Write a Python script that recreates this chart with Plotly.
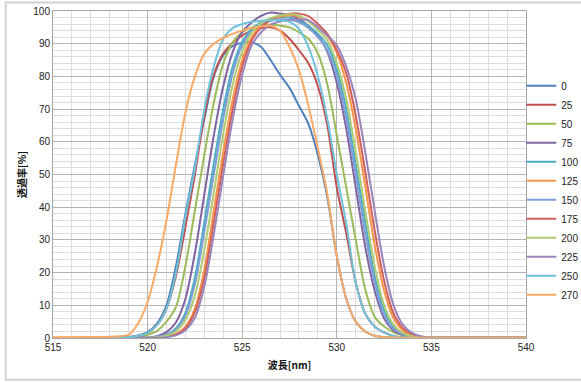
import plotly.graph_objects as go

# wavelength grid [nm]
wavelength = [515, 517, 518, 519, 519.5, 520, 520.5, 521, 521.5, 522, 522.5, 523, 523.5,
              524, 524.5, 525, 525.5, 526, 526.5, 527, 527.5, 528, 528.5, 529, 529.5,
              530, 530.5, 531, 531.5, 532, 532.5, 533, 533.5, 534, 534.5, 535, 536, 538, 540]

series_names = ["0", "25", "50", "75", "100", "125", "150", "175", "200", "225", "250", "270"]

t_0 = [0, 0, 0.05, 0.3, 0.8, 1.8, 4.5, 10, 22, 38, 53, 67, 80,
       86.5, 89.3, 90.3, 90.4, 89, 85, 80.5, 76.5, 71, 65.5, 56, 43,
       25, 12, 5, 2, 0.7, 0.3, 0.15, 0.1, 0.1, 0.1, 0.1, 0.1, 0.1, 0.1]
t_25 = [0, 0, 0.05, 0.3, 0.7, 1.5, 4, 9, 19, 34, 50, 68, 80.5,
        87, 90.3, 92.5, 94, 94.8, 95, 94, 91.5, 88, 84, 77, 65,
        46, 32, 17, 7.5, 3.5, 1.7, 0.6, 0.2, 0.1, 0.1, 0.1, 0.1, 0.1, 0.1]
t_50 = [0, 0, 0, 0.15, 0.4, 1, 2.2, 5, 9.5, 22, 39, 56, 72,
        84, 90.5, 93.5, 95, 95.6, 95.8, 95.6, 95, 93.5, 91.5, 87, 77.5,
        62, 46, 30, 15, 6.5, 3.5, 1.8, 0.8, 0.3, 0.1, 0.1, 0.1, 0.1, 0.1]
t_75 = [0, 0, 0, 0.02, 0.05, 0.2, 0.55, 1.8, 4.8, 12, 26, 44, 62,
        77, 87.5, 93.6, 96.5, 98.5, 99.5, 99.2, 98.8, 97.5, 95.5, 92.5, 87.5,
        78, 64, 46, 28, 14.5, 6, 2.3, 0.9, 0.3, 0.1, 0.1, 0.1, 0.1, 0.1]
t_100 = [0, 0, 0, 0.01, 0.03, 0.08, 0.35, 1.0, 3, 7.7, 18.4, 35.4, 53.4,
         70, 83, 90.5, 94.5, 96.5, 97.5, 98, 98, 97, 95.5, 93, 89.5,
         82, 70, 53, 35.5, 19, 8.5, 3.4, 1.3, 0.4, 0.15, 0.1, 0.1, 0.1, 0.1]
t_125 = [0, 0, 0, 0.01, 0.02, 0.04, 0.15, 0.55, 1.2, 3.5, 9, 21, 39,
         57, 73, 85, 92, 95.5, 97.2, 98.2, 98.7, 98.3, 97, 95, 92.3,
         87.2, 78, 64, 46.5, 28.5, 14.5, 6, 2.3, 0.9, 0.3, 0.1, 0.1, 0.1, 0.1]
t_150 = [0, 0, 0, 0.01, 0.02, 0.06, 0.28, 0.85, 2.6, 6.8, 16.5, 32.5, 50,
         67, 81, 89.5, 93.8, 96, 97, 97.5, 97.3, 96.5, 94.8, 92, 88,
         80, 67, 50, 32, 17, 7, 2.8, 1.1, 0.3, 0.1, 0.1, 0.1, 0.1, 0.1]
t_175 = [0, 0, 0, 0.01, 0.02, 0.03, 0.12, 0.45, 1.1, 3, 8, 18.5, 35.5,
         53.5, 70, 83, 91, 95, 97.2, 98.5, 99.2, 99.2, 98.4, 96, 93,
         88, 81, 68, 51, 33, 17.5, 7.5, 3, 1.1, 0.35, 0.1, 0.1, 0.1, 0.1]
t_200 = [0, 0, 0, 0.01, 0.02, 0.05, 0.22, 0.7, 2.0, 5.5, 13, 27, 44.5,
         62.5, 77.5, 87.5, 93.3, 96.3, 97.8, 98.6, 99, 98.6, 96.8, 94.2, 91,
         84, 73, 57, 39, 22, 10, 4, 1.5, 0.5, 0.15, 0.1, 0.1, 0.1, 0.1]
t_225 = [0, 0, 0, 0, 0.01, 0.03, 0.08, 0.25, 0.8, 2.4, 6.2, 15.8, 31.8,
         49.8, 67, 80.5, 89.5, 93.5, 95.8, 96.8, 97.3, 97.5, 97.2, 95, 92.5,
         89.5, 83, 73, 57, 39, 22, 10, 4, 1.5, 0.5, 0.15, 0.1, 0.1, 0.1]
t_250 = [0, 0, 0.05, 0.3, 0.7, 1.6, 4, 9, 20, 37, 52, 70, 83,
         91.5, 94.8, 96, 96.7, 97, 97.2, 97.2, 96.7, 94.5, 89, 80, 67,
         50, 35, 17, 7.5, 3.5, 1.7, 0.6, 0.2, 0.1, 0.1, 0.1, 0.1, 0.1, 0.1]
t_270 = [0.2, 0.3, 0.4, 1, 4.5, 11, 22, 36, 53, 69, 80, 87, 90,
         91.8, 93, 94, 94.8, 95.3, 95.5, 94, 89, 82, 71, 58, 44,
         25, 12, 5, 2, 0.7, 0.3, 0.15, 0.1, 0.1, 0.1, 0.1, 0.1, 0.1, 0.1]

series_values = [t_0, t_25, t_50, t_75, t_100, t_125, t_150, t_175, t_200, t_225, t_250, t_270]
series_colors = ["#4F81BD", "#C0504D", "#9BBB59", "#8064A2", "#4BACC6", "#F79646",
                 "#7F9FD5", "#D0605C", "#B0CC72", "#9A84BA", "#6EC2DA", "#F9A964"]

fig = go.Figure()
for name, vals, col in zip(series_names, series_values, series_colors):
    fig.add_trace(go.Scatter(x=wavelength, y=vals, name=name, mode="lines",
                             line=dict(color=col, width=2, shape="spline", smoothing=0.8)))

tick_font = dict(family="Liberation Sans, Arial, sans-serif", size=10, color="#222222")
title_font = dict(family="Noto Sans CJK JP, sans-serif", size=10, color="#111111")

fig.update_layout(
    width=581, height=383,
    margin=dict(l=53, r=55, t=11, b=45, autoexpand=False),
    paper_bgcolor="white", plot_bgcolor="white",
    showlegend=True,
    legend=dict(x=0.99, y=0.452, xanchor="left", yanchor="middle",
                font=dict(family="Liberation Sans, Arial, sans-serif", size=10, color="#222222"),
                itemwidth=30, bgcolor="rgba(0,0,0,0)", tracegroupgap=0),
    xaxis=dict(range=[515, 540], dtick=5, tick0=515, showgrid=True, gridcolor="#B4B4B4", gridwidth=1,
               minor=dict(dtick=1, showgrid=True, gridcolor="#DCDCDC", gridwidth=1),
               showline=True, linecolor="#A6A6A6", mirror=True, ticks="", zeroline=False,
               tickfont=tick_font,
               title=dict(text="<b>波長[nm]</b>", font=title_font, standoff=9)),
    yaxis=dict(range=[0, 100], dtick=10, tick0=0, showgrid=True, gridcolor="#B4B4B4", gridwidth=1,
               minor=dict(dtick=2, showgrid=True, gridcolor="#DCDCDC", gridwidth=1),
               showline=True, linecolor="#A6A6A6", mirror=True, ticks="", zeroline=False,
               tickfont=tick_font,
               title=dict(text="<b>透過率[%]</b>", font=title_font, standoff=4)),
    shapes=[dict(type="rect", xref="paper", yref="paper", x0=-0.1, x1=1.2, y0=-0.128, y1=1.026,
                 line=dict(color="#D0D0D0", width=2), fillcolor="rgba(0,0,0,0)", layer="below")],
)

fig.write_html("out.html", config={"displayModeBar": False},
               post_script="document.body.style.margin='0';document.body.style.overflow='hidden';")
